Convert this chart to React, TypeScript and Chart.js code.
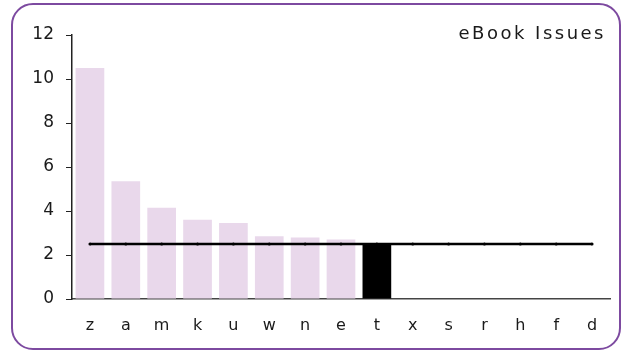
import React, { useEffect, useRef } from "react";
import { Chart, registerables } from "chart.js";

Chart.register(...registerables);

const categories = ["z", "a", "m", "k", "u", "w", "n", "e", "t", "x", "s", "r", "h", "f", "d"];
const issueValues = [10.5, 5.35, 4.15, 3.6, 3.45, 2.85, 2.8, 2.7, 2.5, 0, 0, 0, 0, 0, 0];
const highlightCategory = "t";
const referenceValue = 2.5;
const referenceLine = categories.map(() => referenceValue);
const yTicks = [0, 2, 4, 6, 8, 10, 12];
const chartTitle = "eBook Issues";

const BAR_COLOR = "#e9d8eb";
const HIGHLIGHT_COLOR = "#000000";
const FONT = "'DejaVu Sans', Verdana, sans-serif";

export default function App() {
  const ref = useRef<HTMLCanvasElement>(null);

  useEffect(() => {
    document.body.style.margin = "0";
    const canvas = ref.current;
    if (!canvas) return;

    const spacing = {
      id: "spacing",
      beforeInit(chart: any) {
        chart.ctx.letterSpacing = "1px";
      },
    };

    const titlePlugin = {
      id: "cornerTitle",
      afterDraw(chart: any) {
        const ctx = chart.ctx;
        ctx.save();
        ctx.letterSpacing = "2.5px";
        ctx.font = `18px ${FONT}`;
        ctx.fillStyle = "#1a1a1a";
        ctx.textAlign = "right";
        ctx.textBaseline = "middle";
        ctx.fillText(chartTitle, 606, 34);
        ctx.restore();
      },
    };

    const chart = new Chart(canvas, {
      type: "bar",
      data: {
        labels: categories,
        datasets: [
          {
            type: "line",
            data: referenceLine,
            borderColor: "#000",
            backgroundColor: "#000",
            borderWidth: 2.5,
            pointRadius: 1.5,
            pointBorderWidth: 0,
            order: 0,
          } as any,
          {
            type: "bar",
            data: issueValues,
            backgroundColor: categories.map((c) => (c === highlightCategory ? HIGHLIGHT_COLOR : BAR_COLOR)),
            barPercentage: 0.8,
            categoryPercentage: 1,
            order: 1,
          },
        ],
      },
      options: {
        responsive: false,
        animation: false,
        layout: { padding: { top: 35, right: 15, left: 0, bottom: 0 } },
        plugins: { legend: { display: false }, tooltip: { enabled: false }, title: { display: false } },
        scales: {
          x: {
            grid: { display: false, drawTicks: false },
            border: { display: true, color: "#444", width: 1.5 },
            ticks: { color: "#1a1a1a", font: { family: FONT, size: 16 }, padding: 17, maxRotation: 0, autoSkip: false },
            afterFit(scale: any) {
              scale.height = 54;
            },
          },
          y: {
            min: 0,
            max: 12,
            afterBuildTicks(scale: any) {
              scale.ticks = yTicks.map((v) => ({ value: v }));
            },
            grid: { display: true, drawOnChartArea: false, drawTicks: true, tickLength: 6, color: "#222" },
            border: { display: true, color: "#222", width: 1.5 },
            ticks: { color: "#1a1a1a", font: { family: FONT, size: 17 }, padding: 12 },
            afterFit(scale: any) {
              scale.width = 72;
            },
          },
        },
      },
      plugins: [spacing, titlePlugin],
    });
    return () => chart.destroy();
  }, []);

  return (
    <div style={{ position: "relative", width: 625, height: 353 }}>
      <div
        style={{
          position: "absolute",
          left: 11,
          top: 3,
          width: 606,
          height: 343,
          border: "2px solid #7d4aa0",
          borderRadius: 22,
        }}
      />
      <canvas ref={ref} width={625} height={353} style={{ position: "absolute", left: 0, top: 0 }} />
    </div>
  );
}
